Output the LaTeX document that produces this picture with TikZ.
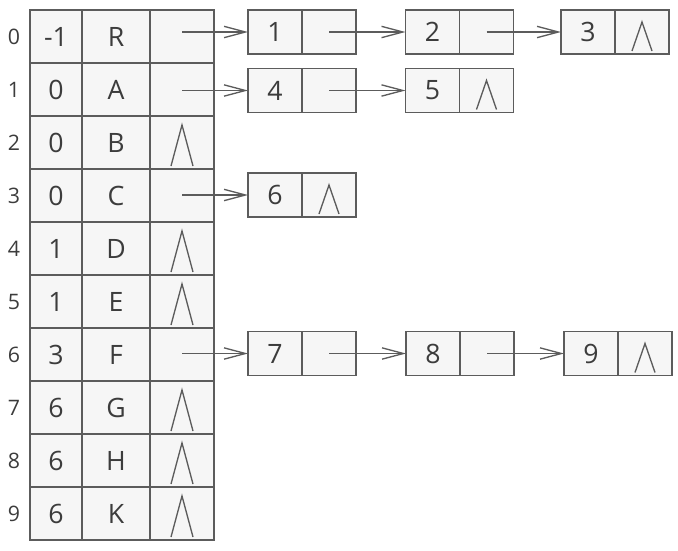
\documentclass[tikz,border=0pt]{standalone}
\usepackage{fontspec}
\setmainfont{Open Sans}
\usetikzlibrary{arrows.meta}

\definecolor{cellfill}{RGB}{246,246,246}
\definecolor{edge}{RGB}{92,92,92}
\definecolor{ink}{RGB}{60,60,60}

\tikzset{every picture/.style={line width=0.75pt}}
\tikzset{
  cell/.style={draw=edge, fill=cellfill, line width=1pt, inner sep=0pt, outer sep=0pt,
    minimum height=53*0.75pt, text=ink, font=\fontsize{20}{24}\selectfont},
  colpar/.style={cell, minimum width=52*0.75pt},
  coldat/.style={cell, minimum width=68*0.75pt},
  colptr/.style={cell, minimum width=64*0.75pt},
  lval/.style={cell, minimum width=54*0.75pt, minimum height=44*0.75pt},
  lptr/.style={cell, minimum width=54*0.75pt, minimum height=44*0.75pt},
  idx/.style={text=ink, inner sep=0pt, font=\fontsize{16}{19}\selectfont},
  link/.style={draw=edge, line width=1pt, -{Straight Barb[length=16pt,width=8.5pt,line width=1pt]}},
  nulline/.style={draw=edge, line width=1pt, line join=miter},
}

\begin{document}
\begin{tikzpicture}[x=0.75pt,y=0.75pt,yscale=-1,xscale=1]
\useasboundingbox (0,0) rectangle (678,550);

% table: parent / data / first child
\node [colpar] (par0) at (56,36.5) {-1};  \node [coldat] (dat0) at (116,36.5) {R}; \node [colptr] (ptr0) at (182,36.5) {};
\node [colpar] (par1) at (56,89.5) {0};   \node [coldat] (dat1) at (116,89.5) {A}; \node [colptr] (ptr1) at (182,89.5) {};
\node [colpar] (par2) at (56,142.5) {0};  \node [coldat] (dat2) at (116,142.5) {B}; \node [colptr] (ptr2) at (182,142.5) {};
\node [colpar] (par3) at (56,195.5) {0};  \node [coldat] (dat3) at (116,195.5) {C}; \node [colptr] (ptr3) at (182,195.5) {};
\node [colpar] (par4) at (56,248.5) {1};  \node [coldat] (dat4) at (116,248.5) {D}; \node [colptr] (ptr4) at (182,248.5) {};
\node [colpar] (par5) at (56,301.5) {1};  \node [coldat] (dat5) at (116,301.5) {E}; \node [colptr] (ptr5) at (182,301.5) {};
\node [colpar] (par6) at (56,354.5) {3};  \node [coldat] (dat6) at (116,354.5) {F}; \node [colptr] (ptr6) at (182,354.5) {};
\node [colpar] (par7) at (56,407.5) {6};  \node [coldat] (dat7) at (116,407.5) {G}; \node [colptr] (ptr7) at (182,407.5) {};
\node [colpar] (par8) at (56,460.5) {6};  \node [coldat] (dat8) at (116,460.5) {H}; \node [colptr] (ptr8) at (182,460.5) {};
\node [colpar] (par9) at (56,513.5) {6};  \node [coldat] (dat9) at (116,513.5) {K}; \node [colptr] (ptr9) at (182,513.5) {};

% row numbers
\node [idx] (i0) at (14,36.5) {0};
\node [idx] (i1) at (14,89.5) {1};
\node [idx] (i2) at (14,142.5) {2};
\node [idx] (i3) at (14,195.5) {3};
\node [idx] (i4) at (14,248.5) {4};
\node [idx] (i5) at (14,301.5) {5};
\node [idx] (i6) at (14,354.5) {6};
\node [idx] (i7) at (14,407.5) {7};
\node [idx] (i8) at (14,460.5) {8};
\node [idx] (i9) at (14,513.5) {9};

% child lists
\node [lval] (v1) at (275,32) {1};    \node [lptr] (p1) at (329,32) {};
\node [lval] (v2) at (432.5,32) {2};  \node [lptr] (p2) at (486.5,32) {};
\node [lval] (v3) at (588,32) {3};    \node [lptr] (p3) at (642,32) {};
\node [lval] (v4) at (275,90.5) {4};  \node [lptr] (p4) at (329,90.5) {};
\node [lval] (v5) at (432.5,90.5) {5};\node [lptr] (p5) at (486.5,90.5) {};
\node [lval] (v6) at (275,195) {6};   \node [lptr] (p6) at (329,195) {};
\node [lval] (v7) at (275,353.5) {7}; \node [lptr] (p7) at (329,353.5) {};
\node [lval] (v8) at (433,353.5) {8}; \node [lptr] (p8) at (487,353.5) {};
\node [lval] (v9) at (591,353.5) {9}; \node [lptr] (p9) at (645,353.5) {};

% links
\draw [link] (ptr0.center |- v1.west) -- (v1.west);
\draw [link] (p1.center) -- (v2.west);
\draw [link] (p2.center) -- (v3.west);
\draw [link] (ptr1.center |- v4.west) -- (v4.west);
\draw [link] (p4.center) -- (v5.west);
\draw [link] (ptr3.center |- v6.west) -- (v6.west);
\draw [link] (ptr6.center |- v7.west) -- (v7.west);
\draw [link] (p7.center) -- (v8.west);
\draw [link] (p8.center) -- (v9.west);

% null marks in table
\draw [nulline] (ptr2.south) ++(-11,-3) -- ++(11,-41) -- ++(11,41);
\draw [nulline] (ptr4.south) ++(-11,-3) -- ++(11,-41) -- ++(11,41);
\draw [nulline] (ptr5.south) ++(-11,-3) -- ++(11,-41) -- ++(11,41);
\draw [nulline] (ptr7.south) ++(-11,-3) -- ++(11,-41) -- ++(11,41);
\draw [nulline] (ptr8.south) ++(-11,-3) -- ++(11,-41) -- ++(11,41);
\draw [nulline] (ptr9.south) ++(-11,-3) -- ++(11,-41) -- ++(11,41);

% null marks in lists
\draw [nulline] (p3.south) ++(-10,-3) -- ++(10,-29) -- ++(10,29);
\draw [nulline] (p5.south) ++(-10,-3) -- ++(10,-29) -- ++(10,29);
\draw [nulline] (p6.south) ++(-10,-3) -- ++(10,-29) -- ++(10,29);
\draw [nulline] (p9.south) ++(-10,-3) -- ++(10,-29) -- ++(10,29);

\end{tikzpicture}
\end{document}
